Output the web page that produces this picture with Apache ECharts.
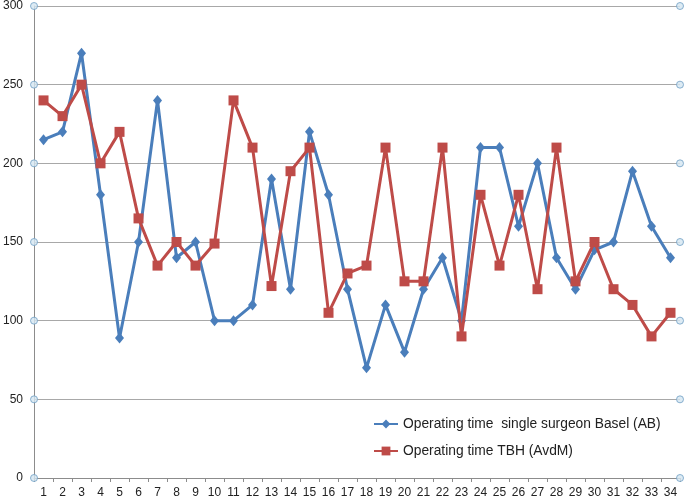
<!DOCTYPE html>
<html>
<head>
<meta charset="utf-8">
<script src="https://cdn.jsdelivr.net/npm/echarts@6/dist/echarts.min.js"></script>
<style>
html,body{margin:0;padding:0;background:#fff;}
#chart{width:685px;height:499px;}
</style>
</head>
<body>
<div id="chart"></div>
<script>
var categories = ['1','2','3','4','5','6','7','8','9','10','11','12','13','14','15','16','17','18','19','20','21','22','23','24','25','26','27','28','29','30','31','32','33','34'];
var basel = [215,220,270,180,89,150,240,140,150,100,100,110,190,120,220,180,120,70,110,80,120,140,100,210,210,160,200,140,120,145,150,195,160,140];
var tbh = [240,230,250,200,220,165,135,150,135,149,240,210,122,195,210,105,130,135,210,125,125,210,90,180,135,180,120,210,125,150,120,110,90,105];
var yTicks = [0,50,100,150,200,250,300];
var seriesNames = ['Operating time  single surgeon Basel (AB)', 'Operating time TBH (AvdM)'];

var circleData = [];
yTicks.forEach(function(v){ circleData.push([0, v]); circleData.push([1, v]); });

var chart = echarts.init(document.getElementById('chart'), null, {renderer:'canvas'});
chart.setOption({
  animation: false,
  backgroundColor: '#ffffff',
  grid: {left: 32, right: 5, top: 4, bottom: 21, containLabel: false},
  legend: {
    orient: 'vertical',
    left: 373,
    top: 417,
    padding: 0,
    itemWidth: 24,
    itemHeight: 11,
    itemGap: 13,
    data: seriesNames,
    textStyle: {fontFamily: 'Liberation Sans', fontSize: 13.8, color: '#222', lineHeight: 14}
  },
  xAxis: [{
    type: 'category',
    data: categories,
    boundaryGap: true,
    axisLine: {lineStyle: {color: '#8c8c8c', width: 1}},
    axisTick: {show: true, alignWithLabel: false, length: 4, inside: false, lineStyle: {color: '#8c8c8c'}},
    axisLabel: {fontFamily: 'Liberation Sans', fontSize: 12, color: '#222', margin: 9, interval: 0},
    splitLine: {show: false}
  }, {
    type: 'value',
    min: 0, max: 1,
    show: false
  }],
  yAxis: {
    type: 'value',
    min: 0, max: 300, interval: 50,
    axisLine: {show: true, lineStyle: {color: '#8c8c8c', width: 1}},
    axisTick: {show: false},
    axisLabel: {fontFamily: 'Liberation Sans', fontSize: 12, color: '#222', margin: 11},
    splitLine: {lineStyle: {color: '#a8a8a8', width: 1}}
  },
  series: [{
    name: seriesNames[0],
    type: 'line',
    data: basel,
    symbol: 'diamond',
    symbolSize: [9, 11],
    showAllSymbol: true,
    lineStyle: {color: '#4a7ebb', width: 3},
    itemStyle: {color: '#4a7ebb'},
    z: 3
  }, {
    name: seriesNames[1],
    type: 'line',
    data: tbh,
    symbol: 'rect',
    symbolSize: 10,
    showAllSymbol: true,
    lineStyle: {color: '#be4b48', width: 3},
    itemStyle: {color: '#be4b48'},
    z: 4
  }, {
    type: 'scatter',
    xAxisIndex: 1,
    data: circleData,
    symbol: 'circle',
    symbolSize: 7,
    itemStyle: {color: '#d4e6f1', borderColor: '#6f9fc4', borderWidth: 1},
    silent: true,
    z: 5
  }]
});
</script>
</body>
</html>
